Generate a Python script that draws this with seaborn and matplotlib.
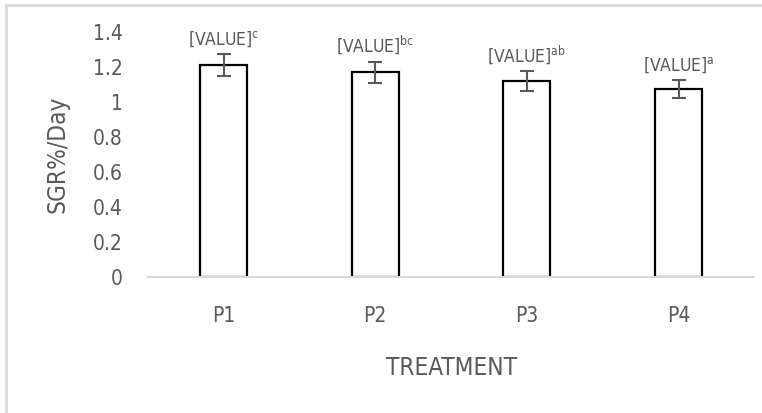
import matplotlib
matplotlib.use('Agg')
import matplotlib.pyplot as plt
import seaborn as sns
import pandas as pd
from matplotlib.patches import Rectangle

# Data
treatments = ['P1', 'P2', 'P3', 'P4']
sgr = [1.21, 1.17, 1.12, 1.075]
sgr_err = [0.062, 0.060, 0.057, 0.050]
letters = ['c', 'bc', 'ab', 'a']

sns.set_theme(style='white')
plt.rcParams['font.family'] = ['DejaVu Sans']
plt.rcParams['font.stretch'] = 'condensed'
plt.rcParams['mathtext.fontset'] = 'custom'
plt.rcParams['mathtext.rm'] = 'DejaVu Sans:stretch=condensed'
plt.rcParams['mathtext.it'] = 'DejaVu Sans:stretch=condensed'

text_color = '#595959'
df = pd.DataFrame({'treatment': treatments, 'sgr': sgr})

fig = plt.figure(figsize=(7.62, 4.13), dpi=100)
ax = fig.add_axes([0.194, 0.329, 0.796, 0.594])

sns.barplot(data=df, x='treatment', y='sgr', ax=ax, width=0.31,
            color='white', edgecolor='black', linewidth=1.6, errorbar=None)

ax.errorbar(range(len(treatments)), sgr, yerr=sgr_err, fmt='none',
            ecolor=text_color, elinewidth=1.5, capsize=5, capthick=1.5)

for i, (v, e, lt) in enumerate(zip(sgr, sgr_err, letters)):
    ax.text(i, v + e + 0.03, '[VALUE]$^{\\mathrm{%s}}$' % lt,
            ha='center', va='bottom', fontsize=12.5, color=text_color)

ax.set_ylim(0, 1.4)
ax.set_xlim(-0.5, 3.5)
ax.set_yticks([0, 0.2, 0.4, 0.6, 0.8, 1.0, 1.2, 1.4])
ax.set_yticklabels(['0', '0.2', '0.4', '0.6', '0.8', '1', '1.2', '1.4'])
ax.tick_params(axis='y', length=0, pad=18, labelsize=15, labelcolor=text_color)
ax.tick_params(axis='x', length=0, pad=21, labelsize=15, labelcolor=text_color)

ax.set_xlabel('TREATMENT', fontsize=17.5, color=text_color)
ax.set_ylabel('SGR%/Day', fontsize=17.5, color=text_color)
ax.xaxis.set_label_coords(0.5, -0.32)
ax.yaxis.set_label_coords(-0.129, 0.5)

for side in ['top', 'right', 'left']:
    ax.spines[side].set_visible(False)
ax.spines['bottom'].set_color('#d9d9d9')
ax.spines['bottom'].set_linewidth(1.5)
ax.grid(False)

# light gray chart-area border (right and bottom edges fall outside the image)
fig.patches.append(Rectangle((6 / 762, -0.05), 1.05, 1.05 - 5 / 413,
                             transform=fig.transFigure, fill=False,
                             edgecolor='#d9d9d9', linewidth=2))

fig.savefig('out.png', dpi=100)
